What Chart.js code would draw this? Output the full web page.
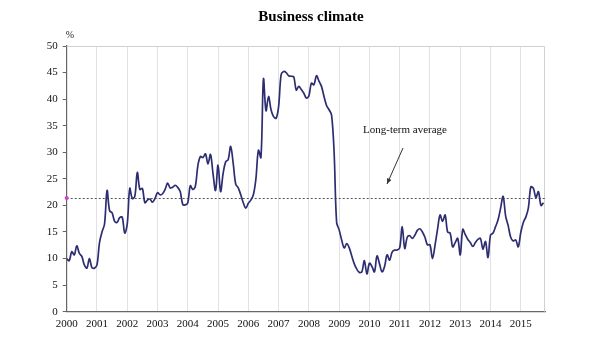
<!DOCTYPE html>
<html>
<head>
<meta charset="utf-8">
<script src="https://cdn.jsdelivr.net/npm/chart.js@4"></script>
<style>
html,body{margin:0;padding:0;background:#fff;}
#wrap{width:600px;height:356px;position:relative;}
</style>
</head>
<body>
<div id="wrap"><canvas id="c" width="600" height="356"></canvas></div>
<script>
// Monthly business climate values, Jan 2000 .. Oct 2015
const startYear = 2000;
const years = ["2000","2001","2002","2003","2004","2005","2006","2007","2008","2009","2010","2011","2012","2013","2014","2015"];
const v2000 = [10.0, 9.6, 11.3, 10.7, 12.4, 11.0, 10.4, 8.8, 8.2, 10.0, 8.3, 8.2];
const v2001 = [8.8, 13.0, 15.0, 16.5, 22.8, 19.0, 18.6, 17.0, 16.8, 17.7, 17.8, 14.8];
const v2002 = [16.5, 23.2, 21.3, 21.7, 26.2, 23.0, 23.2, 20.5, 21.0, 21.2, 20.6, 21.3];
const v2003 = [22.4, 22.0, 22.2, 23.0, 24.2, 23.3, 23.4, 23.8, 23.4, 22.6, 20.2, 20.1];
const v2004 = [20.5, 23.7, 23.0, 23.6, 27.5, 29.2, 29.0, 29.7, 27.8, 29.6, 26.0, 22.8];
const v2005 = [27.6, 22.6, 26.0, 28.2, 28.6, 31.1, 27.9, 24.0, 23.3, 22.0, 20.5, 19.5];
const v2006 = [20.4, 21.0, 22.0, 25.0, 30.4, 29.0, 43.8, 37.8, 40.5, 38.0, 36.7, 36.4];
const v2007 = [38.6, 44.6, 45.2, 45.0, 44.4, 44.3, 44.2, 41.7, 42.4, 41.8, 41.1, 40.2];
const v2008 = [40.6, 43.0, 42.7, 44.4, 43.4, 42.4, 40.5, 38.8, 38.0, 37.0, 30.0, 16.8];
const v2009 = [15.4, 13.5, 12.0, 12.8, 12.0, 10.5, 9.0, 8.0, 7.4, 7.5, 9.6, 7.1];
const v2010 = [9.1, 8.5, 7.5, 10.5, 9.0, 7.5, 8.5, 10.7, 9.7, 11.2, 11.6, 11.6];
const v2011 = [12.0, 16.0, 11.9, 14.0, 14.3, 13.8, 14.4, 15.3, 15.6, 15.0, 14.0, 12.6];
const v2012 = [12.6, 10.0, 12.5, 15.5, 18.2, 17.0, 18.2, 15.0, 14.8, 12.2, 13.0, 13.8];
const v2013 = [10.7, 15.5, 14.5, 13.6, 13.0, 12.3, 13.0, 13.6, 13.8, 11.8, 13.2, 10.2];
const v2014 = [14.4, 14.8, 16.0, 17.3, 19.5, 21.7, 18.0, 16.2, 14.0, 13.3, 13.5, 12.2];
const v2015 = [14.9, 16.8, 17.8, 19.5, 23.5, 23.2, 21.5, 22.6, 20.0, 20.5];
const longTermAverage = 21.4;
const yTicks = [0, 5, 10, 15, 20, 25, 30, 35, 40, 45, 50];

const allValues = [].concat(v2000, v2001, v2002, v2003, v2004, v2005, v2006, v2007,
  v2008, v2009, v2010, v2011, v2012, v2013, v2014, v2015);
const points = allValues.map((v, i) => ({ x: startYear + i / 12, y: v }));
const xMax = 2015.8;

const fontSerif = '"Liberation Serif", "Times New Roman", serif';

const decor = {
  id: 'decor',
  beforeDatasetsDraw(chart) {
    const { ctx, chartArea: a, scales } = chart;
    ctx.save();
    // light frame top/right
    ctx.strokeStyle = '#d0d0d0';
    ctx.lineWidth = 1;
    ctx.beginPath();
    ctx.moveTo(a.left, a.top + 0.5);
    ctx.lineTo(a.right - 0.5, a.top + 0.5);
    ctx.lineTo(a.right - 0.5, a.bottom);
    ctx.stroke();
    // long-term average dotted line
    const yAvg = scales.y.getPixelForValue(longTermAverage);
    ctx.strokeStyle = '#555';
    ctx.setLineDash([2, 2]);
    ctx.beginPath();
    ctx.moveTo(a.left, Math.round(yAvg) + 0.5);
    ctx.lineTo(a.right, Math.round(yAvg) + 0.5);
    ctx.stroke();
    ctx.setLineDash([]);
    ctx.fillStyle = '#d040c8';
    ctx.beginPath();
    ctx.arc(a.left, yAvg, 2, 0, Math.PI * 2);
    ctx.fill();
    ctx.restore();
  },
  afterDraw(chart) {
    const { ctx, chartArea: a, scales } = chart;
    ctx.save();
    ctx.fillStyle = '#000';
    ctx.textAlign = 'center';
    ctx.textBaseline = 'middle';
    ctx.font = 'bold 15px ' + fontSerif;
    ctx.fillText('Business climate', 311, 17);
    ctx.font = '10px ' + fontSerif;
    ctx.fillStyle = '#222';
    ctx.fillText('%', 70, 35);
    ctx.font = '11px ' + fontSerif;
    ctx.fillStyle = '#111';
    ctx.fillText('Long-term average', 405, 130);
    // arrow
    const x0 = 403, y0 = 148, x1 = 387, y1 = 184;
    ctx.strokeStyle = '#333';
    ctx.lineWidth = 1;
    ctx.beginPath();
    ctx.moveTo(x0, y0);
    ctx.lineTo(x1, y1);
    ctx.stroke();
    const ang = Math.atan2(y1 - y0, x1 - x0);
    ctx.fillStyle = '#333';
    ctx.beginPath();
    ctx.moveTo(x1, y1);
    ctx.lineTo(x1 - 6 * Math.cos(ang - 0.4), y1 - 6 * Math.sin(ang - 0.4));
    ctx.lineTo(x1 - 6 * Math.cos(ang + 0.4), y1 - 6 * Math.sin(ang + 0.4));
    ctx.closePath();
    ctx.fill();
    ctx.restore();
  }
};

new Chart(document.getElementById('c'), {
  type: 'line',
  data: {
    datasets: [{
      data: points,
      borderColor: '#2d2d72',
      borderWidth: 1.7,
      pointRadius: 0,
      tension: 0.35,
      fill: false
    }]
  },
  options: {
    responsive: false,
    animation: false,
    layout: { padding: { top: 46, right: 55, bottom: 20, left: 0 } },
    plugins: { legend: { display: false }, tooltip: { enabled: false }, title: { display: false } },
    scales: {
      x: {
        type: 'linear',
        min: startYear,
        max: xMax,
        afterBuildTicks(scale) {
          scale.ticks = years.map(y => ({ value: Number(y) }));
        },
        afterFit(scale) { scale.height = 24.3; },
        ticks: {
          autoSkip: false,
          maxRotation: 0,
          padding: 6,
          color: '#111',
          font: { family: fontSerif, size: 11 },
          callback: (v) => String(v)
        },
        grid: { color: '#e2e2e2', lineWidth: 1, drawTicks: false },
        border: { color: '#666', width: 1.2 }
      },
      y: {
        min: 0,
        max: 50,
        afterBuildTicks(scale) {
          scale.ticks = yTicks.map(v => ({ value: v }));
        },
        afterFit(scale) { scale.width = 66.7; },
        ticks: {
          padding: 5,
          color: '#111',
          font: { family: fontSerif, size: 11 }
        },
        grid: { drawOnChartArea: false, drawTicks: true, tickLength: 4, color: '#666' },
        border: { color: '#666', width: 1.2 }
      }
    }
  },
  plugins: [decor]
});
</script>
</body>
</html>
